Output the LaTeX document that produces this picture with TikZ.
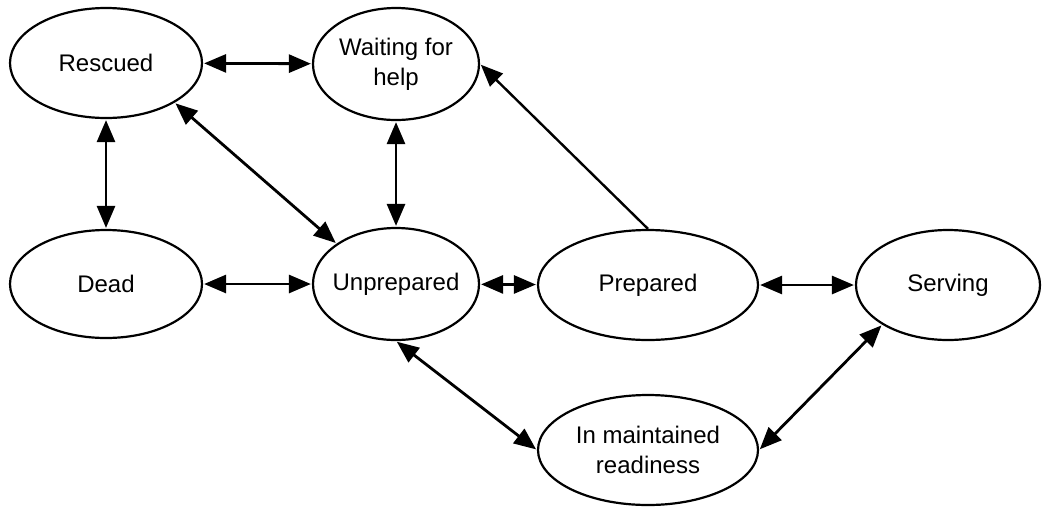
\documentclass[tikz,border=0pt]{standalone}
\usepackage{fontspec}
\setmainfont{Liberation Sans}
\usetikzlibrary{shapes.geometric,arrows.meta}
\begin{document}
\begin{tikzpicture}[x=1pt,y=-1pt,
  state/.style={ellipse,draw,line width=2.2pt,inner sep=0pt},
  txt/.style={align=center,font=\fontsize{24}{30}\selectfont},
  link/.style={line width=2.8pt,{Triangle[length=22pt,width=18pt]}-{Triangle[length=22pt,width=18pt]},shorten <=1pt,shorten >=1pt},
  oneway/.style={line width=2.4pt,-{Triangle[length=22pt,width=18pt]},shorten >=1pt}]
\useasboundingbox (0,0) rectangle (1046,507);
\node[state,minimum width=192pt,minimum height=110pt,label={[txt]center:Rescued}] (resc) at (106,63) {};
\node[state,minimum width=166pt,minimum height=112pt,label={[txt]center:Waiting for\\help}] (wait) at (396,64) {};
\node[state,minimum width=192pt,minimum height=108pt,label={[txt]center:Dead}] (dead) at (106,284) {};
\node[state,minimum width=166pt,minimum height=112pt,label={[txt]center:Unprepared}] (unp) at (396,284) {};
\node[state,minimum width=220pt,minimum height=110pt,label={[txt]center:Prepared}] (prep) at (648,285) {};
\node[state,minimum width=184pt,minimum height=110pt,label={[txt]center:Serving}] (serv) at (948,285) {};
\node[state,minimum width=220pt,minimum height=110pt,label={[txt]center:In maintained\\readiness}] (imr) at (648,450) {};
\draw[link] (resc) -- (wait);
\draw[link] (resc) -- (dead);
\draw[link] (resc.south east) -- (unp.north west);
\draw[link] (wait) -- (unp);
\draw[oneway] (prep.north) -- (wait.east);
\draw[link] (dead) -- (unp);
\draw[link] (unp) -- (prep);
\draw[link] (prep) -- (serv);
\draw[link] (unp.south) -- (imr.west);
\draw[link] (serv.south west) -- (imr.east);
\end{tikzpicture}
\end{document}
